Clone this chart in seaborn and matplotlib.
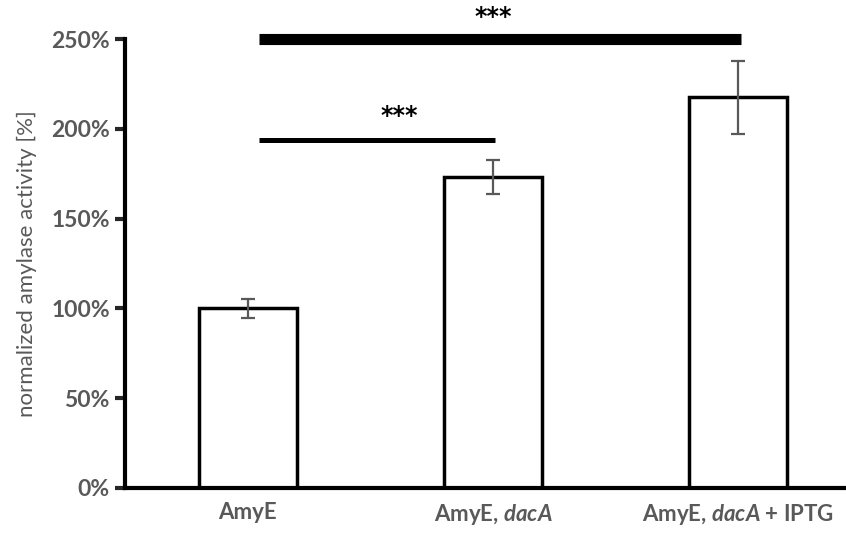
import matplotlib
matplotlib.use("Agg")
import matplotlib.pyplot as plt
import numpy as np
import pandas as pd
import seaborn as sns
from matplotlib.ticker import PercentFormatter

# data
strains = ["AmyE", "AmyE, $\\mathit{dacA}$", "AmyE, $\\mathit{dacA}$ + IPTG"]
activity = [100, 173, 217.5]
errors = [5.5, 9.5, 20.5]
yticks = [0, 50, 100, 150, 200, 250]
# significance brackets: (left bar, right bar, height, label, label x, label y)
sig_pairs = [(0, 1, 193.5, "***", 0.62, 207), (0, 2, 250, "***", 1.0, 262)]

grey = "#595959"

sns.set_style("white")
plt.rcParams["font.family"] = ["Lato", "DejaVu Sans"]
plt.rcParams["mathtext.fontset"] = "custom"
plt.rcParams["mathtext.rm"] = "Lato:bold"
plt.rcParams["mathtext.it"] = "Lato:bold:italic"

df = pd.DataFrame({"strain": strains, "activity": activity})

fig = plt.figure(figsize=(8.46, 5.35), dpi=100)
ax = fig.add_axes([125 / 846, 47 / 535, 1 - 125 / 846, 449 / 535])

sns.barplot(data=df, x="strain", y="activity", ax=ax, width=0.4,
            color="white", edgecolor="black", linewidth=2.5, errorbar=None,
            saturation=1)
ax.errorbar(range(len(strains)), activity, yerr=errors, fmt="none",
            ecolor=grey, elinewidth=1.6, capsize=5, capthick=1.6, zorder=5)

# significance lines
lws = [3.6, 8]
for (a, b, h, lab, tx, ty), lw in zip(sig_pairs, lws):
    ax.plot([a + 0.045, b + 0.01], [h, h], color="black", lw=lw,
            solid_capstyle="butt", clip_on=False, zorder=6)
    ax.text(tx, ty, lab, ha="center", va="center", family="DejaVu Sans",
            fontsize=17, fontweight="bold", color="black", clip_on=False)

ax.set_xlim(-0.5, 2.44)
ax.set_ylim(0, 250)
ax.set_yticks(yticks)
ax.yaxis.set_major_formatter(PercentFormatter(decimals=0))

for s in ["top", "right"]:
    ax.spines[s].set_visible(False)
for s in ["left", "bottom"]:
    ax.spines[s].set_linewidth(3)
    ax.spines[s].set_color("black")
    ax.spines[s].set_capstyle("projecting")

ax.tick_params(axis="y", direction="out", length=7, width=3, left=True,
               labelsize=16.5, labelcolor=grey, pad=4)
ax.tick_params(axis="x", length=0, labelsize=16, labelcolor=grey, pad=10)
for t in ax.get_yticklabels() + ax.get_xticklabels():
    t.set_fontweight("bold")

ax.set_xlabel("")
ax.set_ylabel("normalized amylase activity [%]", fontsize=16, color=grey,
              labelpad=10)

fig.savefig("out.png", dpi=100)
